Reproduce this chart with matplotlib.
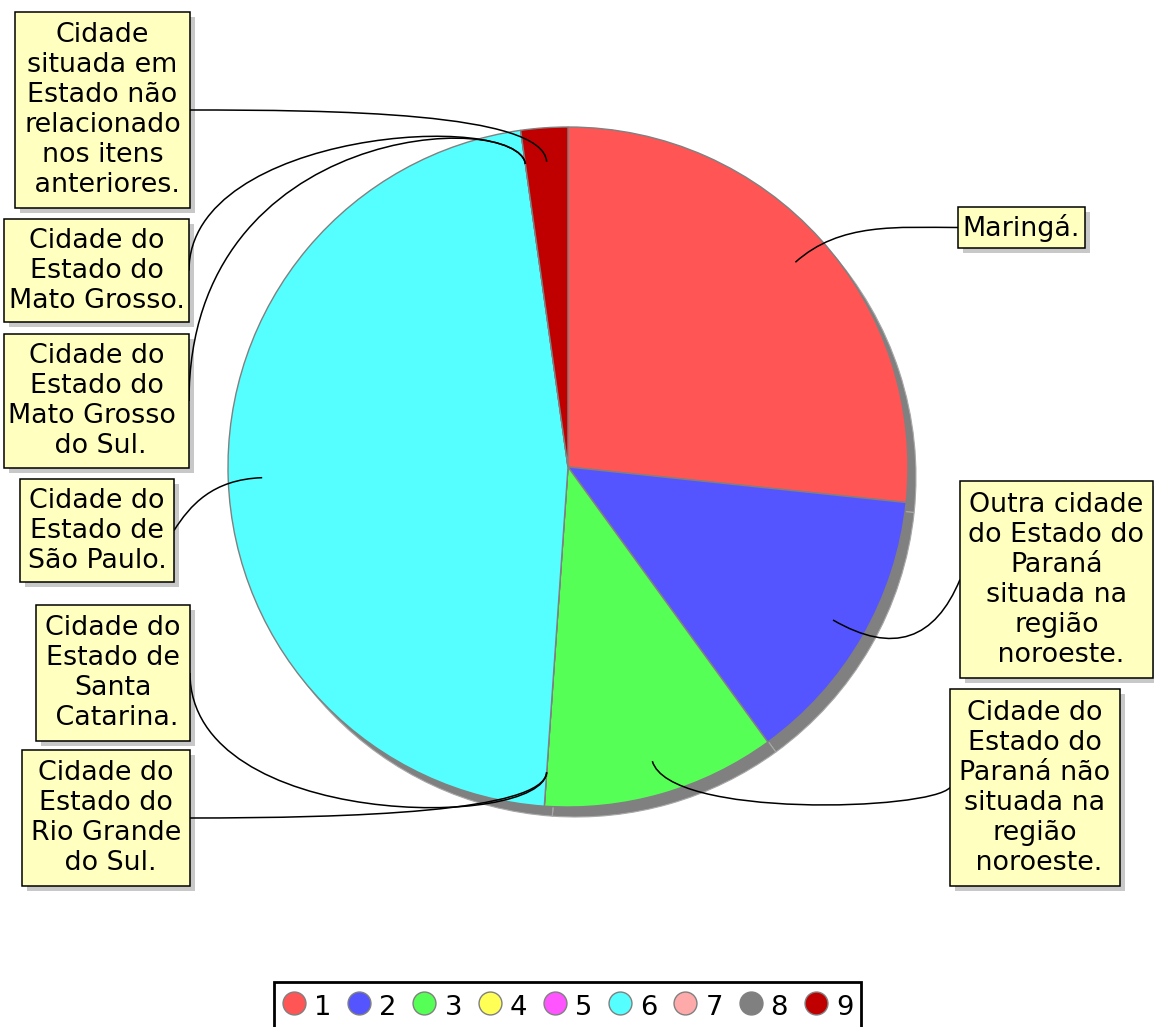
import numpy as np
import matplotlib.pyplot as plt
from matplotlib.patches import Rectangle, PathPatch
from matplotlib.path import Path
from matplotlib.lines import Line2D

# dados
codigos = ['1', '2', '3', '4', '5', '6', '7', '8', '9']
valores = [12, 6, 5, 0, 0, 21, 0, 0, 1]
cores = ['#ff5555', '#5555ff', '#55ff55', '#ffff55', '#ff55ff',
         '#55ffff', '#ffaaaa', '#808080', '#c00000']
rotulos = [
    'Maringá.',
    'Outra cidade\ndo Estado do\nParaná\nsituada na\nregião\n noroeste.',
    'Cidade do\nEstado do\nParaná não\nsituada na\nregião\n noroeste.',
    'Cidade do\nEstado do\nRio Grande\n do Sul.',
    'Cidade do\nEstado de\nSanta\n Catarina.',
    'Cidade do\nEstado de\nSão Paulo.',
    'Cidade do\nEstado do\nMato Grosso \n do Sul.',
    'Cidade do\nEstado do\nMato Grosso.',
    'Cidade\nsituada em\nEstado não\nrelacionado\nnos itens\n anteriores.',
]

# layout das caixas (pixels, y para baixo): x0, y0, x1, y1, lado, L1, (dx, dy)
caixas = [
    (958, 207, 1085, 248, 'left', 60, (-60, 0)),
    (960, 481, 1153, 678, 'left', 70, (-25, 60)),
    (950, 689, 1120, 886, 'left', 60, (-20, 23)),
    (22, 750, 190, 886, 'right', 40, (160, 0)),
    (36, 605, 190, 741, 'right', 58, (0, 157)),
    (20, 479, 174, 582, 'right', 50, (16, -25)),
    (4, 334, 189, 468, 'right', 55, (0, -280)),
    (4, 219, 189, 322, 'right', 55, (0, -140)),
    (15, 12, 190, 208, 'right', 50, (140, 0)),
]

W, H = 1154, 1027
fig = plt.figure(figsize=(W / 100, H / 100), dpi=100)
ax = fig.add_axes([0, 0, 1, 1])

cx, cy, R = 568, H - 467, 340
fs = 19.4

# sombra
ax.pie(valores, colors=['#808080'] * len(valores), center=(cx + 8, cy - 10), radius=R,
       startangle=90, counterclock=False,
       wedgeprops=dict(edgecolor='#a8a8a8', linewidth=0.8))
ax.pie(valores, colors=cores, center=(cx, cy), radius=R,
       startangle=90, counterclock=False,
       wedgeprops=dict(edgecolor='#808080', linewidth=1))

total = sum(valores)
ini = 90 - 360 * np.concatenate([[0], np.cumsum(valores)[:-1]]) / total
meio = np.radians(ini - 180 * np.array(valores) / total)

for i, txt in enumerate(rotulos):
    x0, y0, x1, y1, lado, L1, (dx, dy) = caixas[i]
    # sombra da caixa e caixa
    ax.add_patch(Rectangle((x0 + 5, H - y1 - 5), x1 - x0, y1 - y0,
                           facecolor='#c8c8c8', edgecolor='none', zorder=2.5))
    ax.add_patch(Rectangle((x0, H - y1), x1 - x0, y1 - y0,
                           facecolor='#ffffc0', edgecolor='black', linewidth=1.1, zorder=5))
    ax.text((x0 + x1) / 2, H - (y0 + y1) / 2, txt, ha='center', va='center',
            multialignment='center', fontsize=fs, linespacing=1.2, zorder=6)

    # ligacao
    ux, uy = np.cos(meio[i]), np.sin(meio[i])
    p0 = (cx + 0.9 * R * ux, cy + 0.9 * R * uy)
    p1 = (p0[0] + L1 * ux, p0[1] + L1 * uy)
    xa = x0 if lado == 'left' else x1
    p3 = (xa, H - (y0 + y1) / 2)
    p2 = (p3[0] + dx, p3[1] - dy)
    caminho = Path([p0, p1, p2, p3], [Path.MOVETO, Path.CURVE4, Path.CURVE4, Path.CURVE4])
    ax.add_patch(PathPatch(caminho, facecolor='none', edgecolor='black',
                           linewidth=1.1, zorder=3))

ax.set_xlim(0, W)
ax.set_ylim(0, H)
ax.set_aspect('auto')
ax.axis('off')

handles = [Line2D([], [], ls='none', marker='o', ms=16.5, mfc=c, mec='#808080', mew=1)
           for c in cores]
leg = fig.legend(handles, codigos, loc='upper center', ncol=9,
                 bbox_to_anchor=(567.5 / W, 1 - 982 / H), fontsize=19.7,
                 frameon=True, fancybox=False, edgecolor='black', framealpha=1,
                 handlelength=0.9, handleheight=1.45, handletextpad=0.28,
                 columnspacing=0.566, borderpad=0.29, borderaxespad=0)
leg.get_frame().set_linewidth(2)

fig.savefig('out.png', dpi=100)
